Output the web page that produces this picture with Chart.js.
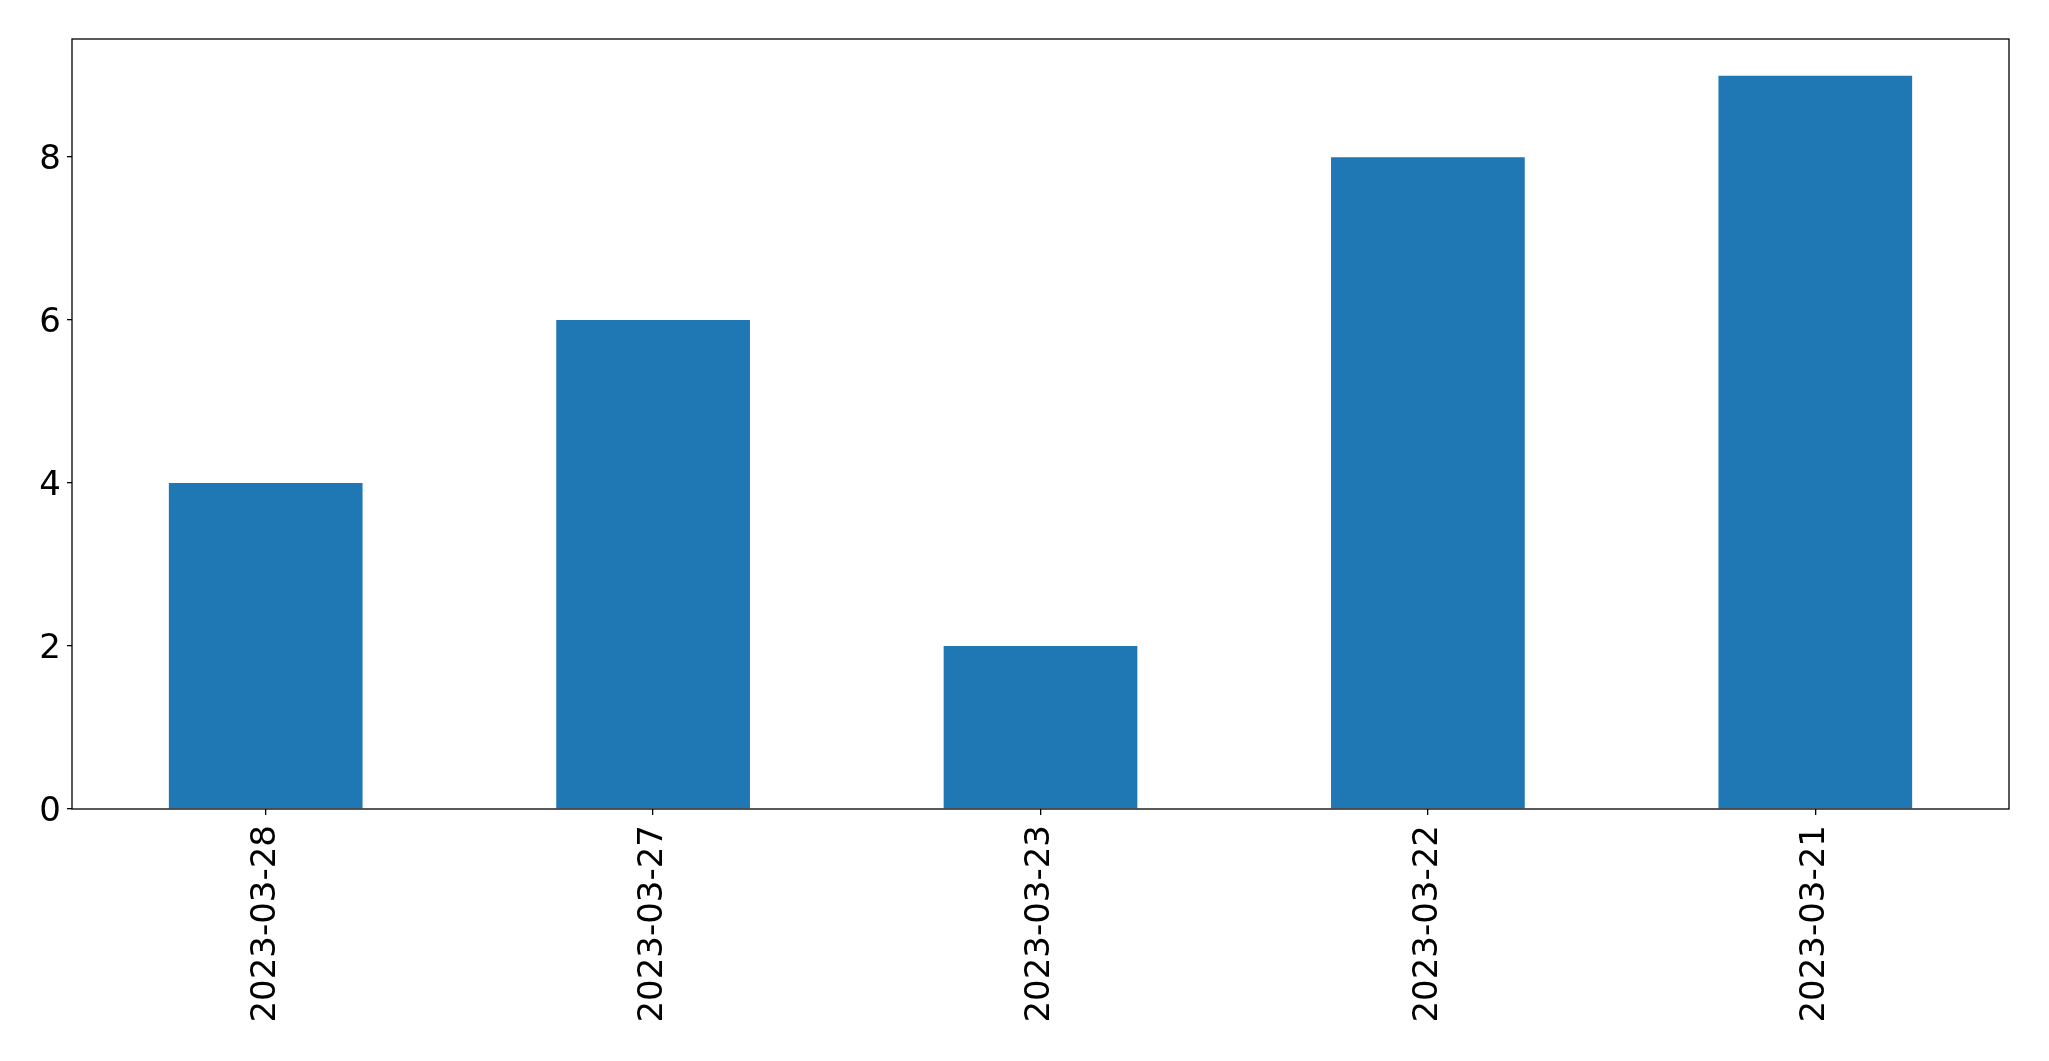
<!DOCTYPE html>
<html>
<head>
<meta charset="utf-8">
<script src="https://cdn.jsdelivr.net/npm/chart.js@4.4.0/dist/chart.umd.min.js"></script>
<style>
  html, body { margin: 0; padding: 0; background: #fff; }
  #wrap { width: 2049px; height: 1061px; }
</style>
</head>
<body>
<div id="wrap"><canvas id="barChart"></canvas></div>
<script>
const categories = ["2023-03-28", "2023-03-27", "2023-03-23", "2023-03-22", "2023-03-21"];
const counts = [4, 6, 2, 8, 9];
const yTicks = [0, 2, 4, 6, 8];
const yMax = 9.45;

const frameBox = {
    id: "frameBox",
    afterDraw(chart) {
        const { ctx, chartArea: a } = chart;
        ctx.save();
        ctx.strokeStyle = "#000";
        ctx.lineWidth = 1.3;
        ctx.strokeRect(a.left, a.top, a.right - a.left, a.bottom - a.top);
        ctx.restore();
    }
};

const font = { family: "'DejaVu Sans', sans-serif", size: 34 };

new Chart(document.getElementById("barChart").getContext("2d"), {
    type: "bar",
    data: {
        labels: categories,
        datasets: [{
            data: counts,
            backgroundColor: "#1f77b4",
            borderWidth: 0,
            categoryPercentage: 1,
            barPercentage: 0.5
        }]
    },
    options: {
        responsive: true,
        maintainAspectRatio: false,
        animation: false,
        layout: { padding: { top: 39, right: 40, left: 0, bottom: 0 } },
        plugins: { legend: { display: false }, tooltip: { enabled: false } },
        scales: {
            x: {
                offset: true,
                grid: { display: true, drawOnChartArea: false, drawTicks: true, tickLength: 6, color: "#000", lineWidth: 1.3, offset: false },
                border: { display: false },
                ticks: { color: "#000", font, maxRotation: 90, minRotation: 90, padding: 10, autoSkip: false },
                afterFit(scale) { scale.height = 252; }
            },
            y: {
                min: 0,
                max: yMax,
                grid: { display: true, drawOnChartArea: false, drawTicks: true, tickLength: 5, color: "#000", lineWidth: 1.3 },
                border: { display: false },
                ticks: { color: "#000", font, padding: 6, labelOffset: 3, includeBounds: false },
                afterBuildTicks(scale) { scale.ticks = yTicks.map(v => ({ value: v })); },
                afterFit(scale) { scale.width = 72; }
            }
        }
    },
    plugins: [frameBox]
});
</script>
</body>
</html>
